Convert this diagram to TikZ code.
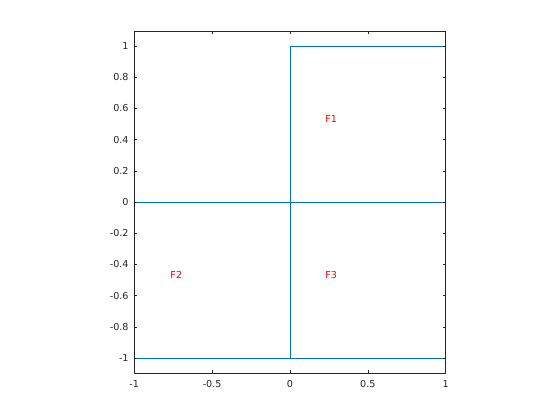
\documentclass[tikz,border=0pt]{standalone}
\usepackage{fontspec}
\setmainfont{DejaVu Sans}
\definecolor{mblue}{HTML}{0072BD}
\definecolor{axgray}{HTML}{262626}
\definecolor{mred}{HTML}{FF0000}
\begin{document}
\begin{tikzpicture}[x=1pt,y=-1pt,
  axline/.style={draw=axgray,line width=0.6pt},
  plotline/.style={draw=mblue,line width=0.9pt},
  ticklab/.style={text=axgray,font=\fontsize{9.6}{10}\selectfont,inner sep=0pt},
  flabel/.style={text=mred,font=\fontsize{9.6}{10}\selectfont,inner sep=0pt}]
\useasboundingbox[fill=white] (0,0) rectangle (560,420);
\begin{scope}[shift={(290pt,-202pt)},x=155.75pt,y=156pt]
  % plot lines
  \draw[plotline] (0,-1) -- (0,1) -- (1,1);
  \draw[plotline] (-1,0) -- (1,0);
  \draw[plotline] (-1,-1) -- (1,-1);
  \draw[plotline] (-1,-1) -- (-1,0);
  \draw[plotline] (1,-1) -- (1,1);
  % axes box
  \draw[axline] (-1,-1.095) rectangle (1,1.095);
  % x ticks
  \foreach \v/\l in {-1/-1,-0.5/-0.5,0/0,0.5/0.5,1/1}{
    \draw[axline] (\v,-1.095) -- ++(0,0.02);
    \draw[axline] (\v,1.095) -- ++(0,-0.02);
    \node[ticklab,anchor=north] (xt\l) at (\v,-1.14) {\l};
  }
  % y ticks
  \foreach \v/\l in {-1/-1,-0.8/-0.8,-0.6/-0.6,-0.4/-0.4,-0.2/-0.2,0/0,0.2/0.2,0.4/0.4,0.6/0.6,0.8/0.8,1/1}{
    \draw[axline] (-1,\v) -- ++(0.02,0);
    \draw[axline] (1,\v) -- ++(-0.02,0);
    \node[ticklab,anchor=east] (yt\l) at (-1.035,\v) {\l};
  }
  \node[flabel] (f1) at (0.265,0.532) {F1};
  \node[flabel] (f2) at (-0.73,-0.468) {F2};
  \node[flabel] (f3) at (0.265,-0.468) {F3};
\end{scope}
\end{tikzpicture}
\end{document}
